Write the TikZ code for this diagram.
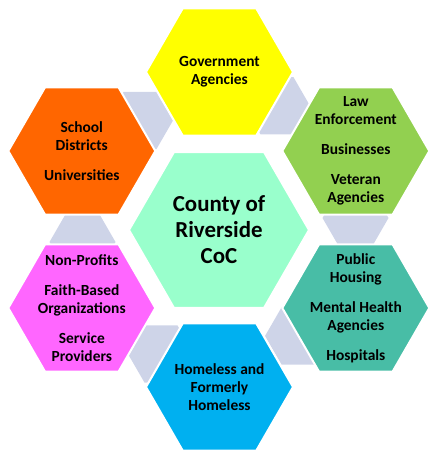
\documentclass[tikz,border=0pt]{standalone}
\usepackage{fontspec}
\setmainfont{Carlito}
\usetikzlibrary{shapes.geometric}
\definecolor{cyellow}{HTML}{FFFF00}
\definecolor{corange}{HTML}{FF6600}
\definecolor{cgreen}{HTML}{92D050}
\definecolor{cmint}{HTML}{99FFCC}
\definecolor{cpink}{HTML}{FF66FF}
\definecolor{cteal}{HTML}{48BDA6}
\definecolor{cblue}{HTML}{00B0F0}
\definecolor{clink}{HTML}{CED4E8}
\begin{document}
\begin{tikzpicture}[x=1bp,y=-1bp,
  hexa/.style={regular polygon, regular polygon sides=6, draw=white, line width=2bp, inner sep=0pt, outer sep=0pt},
  outerhex/.style={hexa, minimum size=147bp},
  centerhex/.style={hexa, minimum size=180bp},
  linkhex/.style={regular polygon, regular polygon sides=6, fill=clink, draw=none, inner sep=0pt, minimum size=66bp},
  txt/.style={font=\bfseries\fontsize{15.5}{18}\selectfont, align=center, text=black, inner sep=0pt},
  bigtxt/.style={font=\bfseries\fontsize{23}{26}\selectfont, align=center, text=black, inner sep=0pt}]
\useasboundingbox (0,0) rectangle (427,450);
% connector hexagons
\node[linkhex] (l1) at (355.5,218) {};
\node[linkhex] (l2) at (277,105.8) {};
\node[linkhex] (l3) at (140,120.5) {};
\node[linkhex] (l4) at (82.5,242) {};
\node[linkhex] (l5) at (161,354) {};
\node[linkhex] (l6) at (298,336) {};
% main hexagons
\node[outerhex, fill=cyellow] (gov) at (219.5,72) {};
\node[outerhex, fill=corange] (school) at (81.8,151) {};
\node[outerhex, fill=cgreen] (law) at (355.8,151) {};
\node[centerhex, fill=cmint] (coc) at (219,230) {};
\node[outerhex, fill=cpink] (nonprof) at (81.8,308) {};
\node[outerhex, fill=cteal] (public) at (355.8,308) {};
\node[outerhex, fill=cblue] (homeless) at (219.5,387) {};
% texts
\node[txt] (tgov) at (gov) {Government\\Agencies};
\node[txt] (tschool) at (school) {School\\Districts\\[12bp]Universities};
\node[txt] (tlaw) at (law) {Law\\Enforcement\\[12bp]Businesses\\[12bp]Veteran\\Agencies};
\node[bigtxt] (tcoc) at (coc) {County of\\Riverside\\CoC};
\node[txt] (tnonprof) at (nonprof) {Non-Profits\\[12bp]Faith-Based\\Organizations\\[12bp]Service\\Providers};
\node[txt] (tpublic) at (public) {Public\\Housing\\[12bp]Mental Health\\Agencies\\[12bp]Hospitals};
\node[txt] (thomeless) at (homeless) {Homeless and\\Formerly\\Homeless};
\end{tikzpicture}
\end{document}
